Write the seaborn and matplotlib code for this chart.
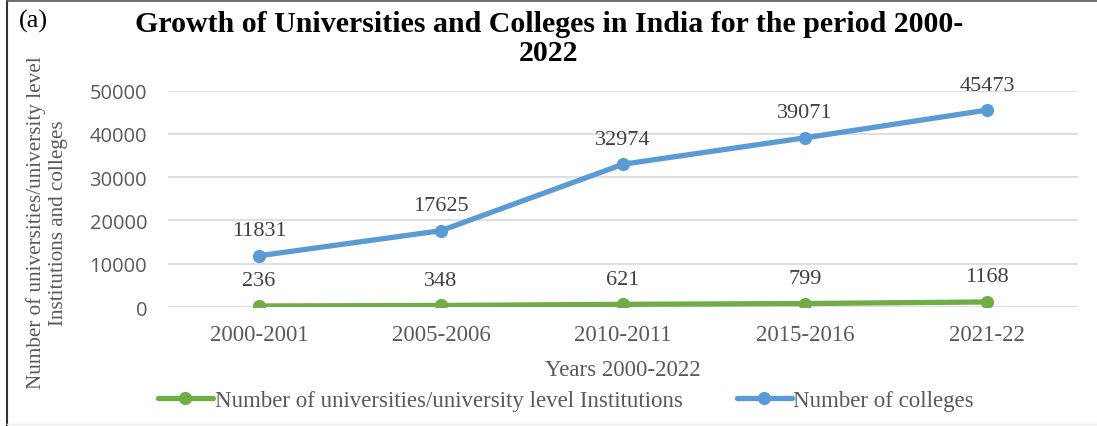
import matplotlib
matplotlib.use("Agg")
import matplotlib.pyplot as plt
import seaborn as sns
import pandas as pd
from matplotlib.lines import Line2D

years = ["2000-2001", "2005-2006", "2010-2011", "2015-2016", "2021-22"]
universities = [236, 348, 621, 799, 1168]
colleges = [11831, 17625, 32974, 39071, 45473]
series_names = ["Number of universities/university level Institutions", "Number of colleges"]
yticks = [0, 10000, 20000, 30000, 40000, 50000]

sns.set_theme(style="white")
plt.rcParams['font.family'] = ['Liberation Serif', 'DejaVu Serif']

df = pd.DataFrame({
    "pos": list(range(len(years))) * 2,
    "value": universities + colleges,
    "series": [series_names[0]] * len(years) + [series_names[1]] * len(years),
})

fig = plt.figure(figsize=(10.97, 4.27), dpi=100)
ax = fig.add_axes([168/1097, 1 - 308/427, (1078-168)/1097, (308-91.5)/427])

palette = {series_names[0]: "#70AD47", series_names[1]: "#5B9BD5"}
sns.lineplot(data=df, x="pos", y="value", hue="series", palette=palette,
             marker="o", markersize=9.5, markeredgewidth=0, linewidth=3.8,
             ax=ax, legend=False, sort=False)

ax.set_xlim(-0.5, len(years) - 0.5)
ax.set_ylim(0, 50000)
ax.set_yticks(yticks)
ax.set_yticklabels([str(v) for v in yticks], family="Open Sans", fontsize=14.5, color="#595959")
ax.set_xticks(range(len(years)))
ax.set_xticklabels(years, fontsize=16.5, color="#595959")
ax.tick_params(axis="both", length=0)
ax.tick_params(axis="y", pad=15)
ax.tick_params(axis="x", pad=12)
ax.yaxis.grid(True, color="#D9D9D9", linewidth=1.2)
ax.set_axisbelow(True)
for s in ax.spines.values():
    s.set_visible(False)

for i, v in enumerate(universities):
    ax.annotate(str(v), (i, v), xytext=(0, 18), textcoords="offset points",
                ha="center", va="center", fontsize=16, color="#404040")
for i, v in enumerate(colleges):
    ax.annotate(str(v), (i, v), xytext=(0, 18), textcoords="offset points",
                ha="center", va="center", fontsize=16, color="#404040", annotation_clip=False)

ax.set_xlabel("Years 2000-2022", fontsize=16.5, color="#595959", labelpad=10)
ax.set_ylabel("")
fig.text(47/1097, 1 - 223/427, "Number of universities/university level\nInstitutions and colleges",
         rotation=90, ha="center", va="center", fontsize=15.2, color="#595959", linespacing=1.25)

fig.text(549/1097, 1 - 39/427, "Growth of Universities and Colleges in India for the period 2000-\n2022",
         ha="center", va="center", fontsize=21.5, fontweight="bold", color="black", linespacing=1.08)
fig.text(19/1097, 1 - 21/427, "(a)", ha="left", va="center", fontsize=19, color="black")

handles = [Line2D([0], [0], color=palette[n], linewidth=3.8, marker="o", markersize=9.5,
                  markeredgewidth=0) for n in series_names]
fig.legend(handles, series_names, loc="center", bbox_to_anchor=(566/1097, 1 - 401/427),
           ncol=2, frameon=False, fontsize=16.5, labelcolor="#595959",
           handlelength=2.4, handletextpad=0.08, columnspacing=2.35)

fig.add_artist(Line2D([7/1097, 7/1097], [0, 1 - 2/427], transform=fig.transFigure, color="#333333", linewidth=1.5))
fig.add_artist(Line2D([7/1097, 1], [1 - 2/427, 1 - 2/427], transform=fig.transFigure, color="#555555", linewidth=1.2))
fig.add_artist(Line2D([7/1097, 1], [2/427, 2/427], transform=fig.transFigure, color="#EEEEEE", linewidth=1.0))

fig.savefig("out.png", dpi=100)
